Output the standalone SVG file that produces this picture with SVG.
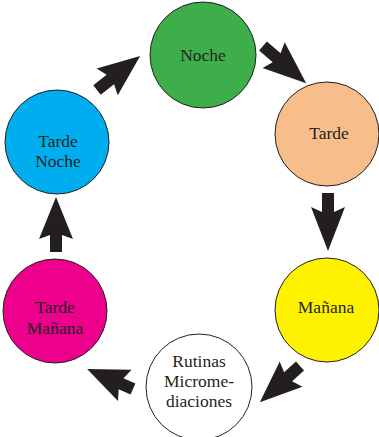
<svg xmlns="http://www.w3.org/2000/svg" width="379" height="437" viewBox="0 0 379 437">
<style>
.n{stroke:#231f20;stroke-width:1}
.t{font-family:'Liberation Serif',serif;font-size:17.5px;fill:#231f20;text-anchor:middle}
.a{fill:#231f20}
</style>
<rect width="379" height="437" fill="#fff"/>
<g id="connectors">
<path class="a" transform="translate(97,90) rotate(-38.3)" d="M0,-6H17L13,-17L55,0L13,17L17,6H0Z"/>
<path class="a" transform="translate(263,46) rotate(40.7)" d="M0,-6H18L14,-17L57,0L14,17L18,6H0Z"/>
<path class="a" transform="translate(328,193) rotate(90)" d="M0,-6H19L14,-17L58,0L14,17L19,6H0Z"/>
<path class="a" transform="translate(300,366) rotate(138)" d="M0,-6H16L12,-17L54,0L12,17L16,6H0Z"/>
<path class="a" transform="translate(133,389) rotate(203.5)" d="M0,-6H13L9,-17L50,0L9,17L13,6H0Z"/>
<path class="a" transform="translate(56,252) rotate(-90)" d="M0,-6H17L13,-17L55,0L13,17L17,6H0Z"/>
</g>
<g id="noche"><circle class="n" cx="203" cy="55" r="53" fill="#3dae49"/><text class="t" x="203" y="61">Noche</text></g>
<g id="tarde"><circle class="n" cx="327" cy="134" r="52" fill="#f7be8c"/><text class="t" x="329" y="139">Tarde</text></g>
<g id="manana"><circle class="n" cx="327" cy="310" r="52" fill="#fff200"/><text class="t" x="326" y="313">Mañana</text></g>
<g id="rutinas"><circle class="n" cx="199" cy="387" r="53" fill="#fff"/><text class="t" x="199" y="367">Rutinas</text><text class="t" x="199" y="387">Microme-</text><text class="t" x="199" y="407">diaciones</text></g>
<g id="tarde-manana"><circle class="n" cx="55" cy="311" r="52" fill="#ec008c"/><text class="t" x="55" y="313">Tarde</text><text class="t" x="55" y="334">Mañana</text></g>
<g id="tarde-noche"><circle class="n" cx="57" cy="142" r="52" fill="#00aeef"/><text class="t" x="58" y="147">Tarde</text><text class="t" x="58" y="167">Noche</text></g>
</svg>
